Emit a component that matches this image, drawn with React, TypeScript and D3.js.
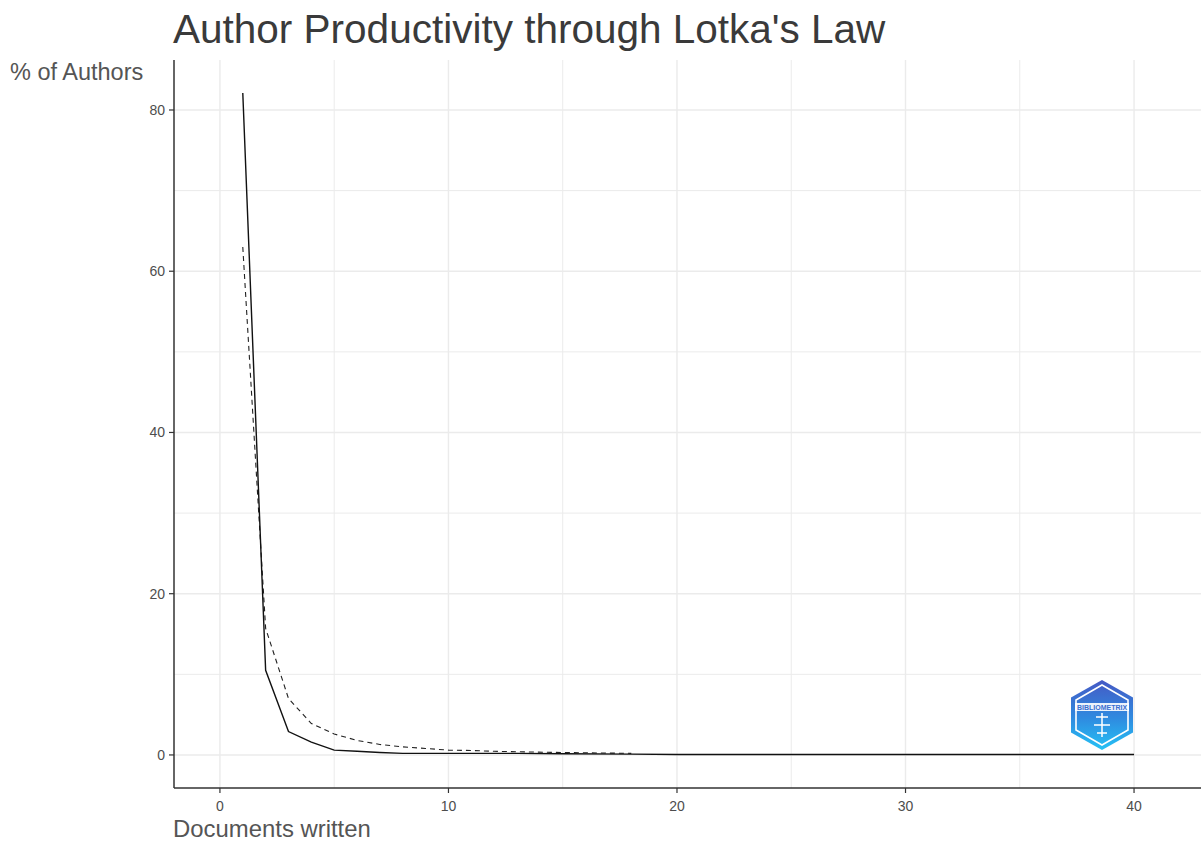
import React from 'react';
import * as d3 from 'd3';

// documents written (observed values of n)
const docsObserved = [1, 2, 3, 4, 5, 6, 7, 8, 9, 10, 11, 12, 13, 15, 18, 20, 25, 30, 40];
// % of authors who wrote n documents (observed)
const pctObserved = [82.1, 10.5, 2.9, 1.6, 0.6, 0.45, 0.3, 0.2, 0.2, 0.2, 0.2, 0.2, 0.2, 0.15, 0.1, 0.05, 0.05, 0.05, 0.05];

// theoretical Lotka distribution (dashed)
const docsTheory = [1, 2, 3, 4, 5, 6, 7, 8, 9, 10, 11, 12, 13, 15, 18];
const pctTheory = [63, 15.7, 7.0, 3.9, 2.6, 1.8, 1.3, 1.0, 0.8, 0.6, 0.55, 0.45, 0.4, 0.3, 0.2];

const xMajor = [0, 10, 20, 30, 40];
const xMinor = [5, 15, 25, 35];
const yMajor = [0, 20, 40, 60, 80];
const yMinor = [10, 30, 50, 70];

const W = 1201;
const H = 841;
const left = 174;
const right = 1201;
const top = 60;
const bottom = 788;

const font = 'Liberation Sans, Arial, sans-serif';

function Logo({ cx, cy }: { cx: number; cy: number }) {
  // pointy-top hexagon
  const hex = (rx: number, ry: number) =>
    d3.range(6).map((i) => {
      const a = (Math.PI / 3) * i - Math.PI / 2;
      return [cx + rx * Math.cos(a) / Math.cos(Math.PI / 6), cy + ry * Math.sin(a)] as [number, number];
    });
  const line = d3.line().curve(d3.curveLinearClosed);
  return (
    <g>
      <defs>
        <linearGradient id="logoGrad" x1="0" y1="0" x2="0" y2="1">
          <stop offset="0%" stopColor="#4559c4" />
          <stop offset="55%" stopColor="#2f8be0" />
          <stop offset="100%" stopColor="#25c2f5" />
        </linearGradient>
      </defs>
      <path d={line(hex(31, 35)) || ''} fill="url(#logoGrad)" />
      <path d={line(hex(26, 30)) || ''} fill="none" stroke="#ffffff" strokeWidth={1.6} />
      <rect x={cx - 27} y={cy - 12} width={54} height={8} fill="#ffffff" opacity={0.9} />
      <text x={cx} y={cy - 5.5} textAnchor="middle" fontFamily={font} fontSize={7} fontWeight="bold" fill="#3a6fd0">
        BIBLIOMETRIX
      </text>
      <path
        d={`M${cx - 6},${cy + 2} h12 M${cx},${cy - 2} v24 M${cx - 8},${cy + 10} h16 M${cx - 5},${cy + 18} h10`}
        stroke="#ffffff"
        strokeWidth={1.5}
        fill="none"
      />
    </g>
  );
}

export default function App() {
  const x = d3.scaleLinear().domain([-2.01, 42.93]).range([left, right]);
  const y = d3.scaleLinear().domain([-4.1, 86.2]).range([bottom, top]);

  const lineGen = d3
    .line<[number, number]>()
    .x((d) => x(d[0]))
    .y((d) => y(d[1]));

  const observedLine = lineGen(docsObserved.map((n, i) => [n, pctObserved[i]]));
  const theoryLine = lineGen(docsTheory.map((n, i) => [n, pctTheory[i]]));

  return (
    <svg width={W} height={H} style={{ position: 'absolute', left: 0, top: 0, background: '#fff' }}>
      <rect width={W} height={H} fill="#ffffff" />

      {/* grid */}
      {yMinor.map((v) => (
        <line key={'ym' + v} x1={left} x2={right} y1={y(v)} y2={y(v)} stroke="#ebebeb" strokeWidth={1} />
      ))}
      {xMinor.map((v) => (
        <line key={'xm' + v} x1={x(v)} x2={x(v)} y1={top} y2={bottom} stroke="#ebebeb" strokeWidth={1} />
      ))}
      {yMajor.map((v) => (
        <line key={'yM' + v} x1={left} x2={right} y1={y(v)} y2={y(v)} stroke="#ebebeb" strokeWidth={1.4} />
      ))}
      {xMajor.map((v) => (
        <line key={'xM' + v} x1={x(v)} x2={x(v)} y1={top} y2={bottom} stroke="#ebebeb" strokeWidth={1.4} />
      ))}

      {/* lines */}
      <path d={theoryLine || ''} fill="none" stroke="#222" strokeWidth={1.1} strokeDasharray="5,4" />
      <path d={observedLine || ''} fill="none" stroke="#111" strokeWidth={1.4} />

      <Logo cx={1102} cy={715} />

      {/* axes */}
      <line x1={left} x2={left} y1={top} y2={bottom} stroke="#333" strokeWidth={1.5} />
      <line x1={left} x2={right} y1={bottom} y2={bottom} stroke="#333" strokeWidth={1.5} />
      {yMajor.map((v) => (
        <g key={'yt' + v}>
          <line x1={left - 5} x2={left} y1={y(v)} y2={y(v)} stroke="#333" strokeWidth={1.2} />
          <text x={left - 9} y={y(v) + 5} textAnchor="end" fontFamily={font} fontSize={14} fill="#4d4d4d">
            {v}
          </text>
        </g>
      ))}
      {xMajor.map((v) => (
        <g key={'xt' + v}>
          <line x1={x(v)} x2={x(v)} y1={bottom} y2={bottom + 5} stroke="#333" strokeWidth={1.2} />
          <text x={x(v)} y={bottom + 23} textAnchor="middle" fontFamily={font} fontSize={14} fill="#4d4d4d">
            {v}
          </text>
        </g>
      ))}

      {/* titles */}
      <text x={173} y={43} fontFamily={font} fontSize={40.5} fill="#3a3a3a">
        Author Productivity through Lotka's Law
      </text>
      <text x={10} y={80} fontFamily={font} fontSize={23.5} fill="#555555">
        % of Authors
      </text>
      <text x={173} y={837} fontFamily={font} fontSize={23.9} fill="#555555">
        Documents written
      </text>
    </svg>
  );
}
